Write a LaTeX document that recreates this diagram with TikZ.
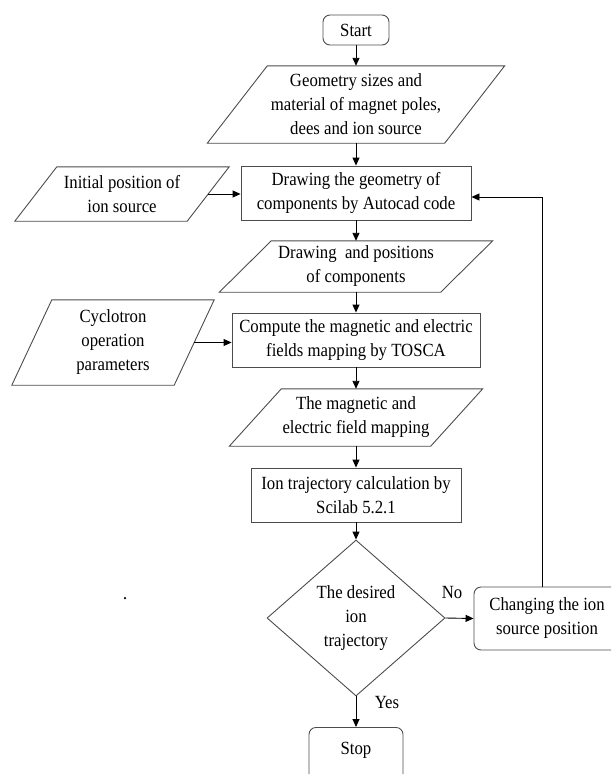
\documentclass[tikz,border=0pt]{standalone}
\usepackage{fontspec}
\setmainfont[FakeStretch=0.9]{Liberation Serif}
\usetikzlibrary{shapes.geometric}
\usetikzlibrary{arrows.meta}

\newcommand{\slantframe}[2]{%
  \draw[edgeline] ([xshift=#2]#1.north west) -- ([xshift=#2]#1.north east)
    -- ([xshift=-#2]#1.south east) -- ([xshift=-#2]#1.south west) -- cycle;}

\begin{document}
\begin{tikzpicture}[x=1pt,y=-1pt,
  txt/.style={font=\fontsize{18.6}{24}\selectfont, align=center, inner sep=0pt},
  edgeline/.style={draw=black!70, line width=0.9pt},
  procbox/.style={txt, edgeline, rectangle},
  termbox/.style={procbox, rounded corners=7pt},
  iobox/.style={txt, rectangle},
  decbox/.style={txt, edgeline, diamond, aspect=1.14},
  flow/.style={-{Triangle[length=8pt,width=7pt]}, line width=0.9pt}]
  \useasboundingbox (0,0) rectangle (611,774);
  \clip (0,0) rectangle (611,774);

  \node[termbox, minimum width=66pt, minimum height=30pt] (start) at (356,30) {Start};
  \node[iobox, minimum width=237pt, minimum height=77pt] (geo) at (356,104.5) {Geometry sizes and\\material of magnet poles,\\dees and ion source};
  \node[procbox, minimum width=230pt, minimum height=54pt] (drawg) at (356,193) {Drawing the geometry of\\components by Autocad code};
  \node[iobox, minimum width=172pt, minimum height=54pt] (init) at (122,194) {Initial position of\\ion source};
  \node[iobox, minimum width=221pt, minimum height=51pt] (dp) at (356,266.5) {Drawing~ and positions\\of components};
  \node[iobox, minimum width=162pt, minimum height=85pt] (cyc) at (113,342.5) {Cyclotron\\operation\\parameters};
  \node[procbox, minimum width=248pt, minimum height=54pt] (comp) at (356,340) {Compute the magnetic and electric\\fields mapping by TOSCA};
  \node[iobox, minimum width=201pt, minimum height=57pt] (mag) at (356,417.5) {The magnetic and\\electric field mapping};
  \node[procbox, minimum width=210pt, minimum height=54pt] (ion) at (356,495) {Ion trajectory calculation by\\Scilab 5.2.1};
  \node[decbox, minimum width=178pt, minimum height=156pt] (dec) at (356,618) {The desired\\ion\\trajectory};
  \node[termbox, minimum width=146pt, minimum height=63pt] (chg) at (547,618.5) {Changing the ion\\source position};
  \node[termbox, minimum width=94pt, text height=27pt, text depth=40pt, anchor=north] (stop) at (356,727) {Stop};

  \slantframe{geo}{30pt}
  \slantframe{init}{21pt}
  \slantframe{dp}{26pt}
  \slantframe{cyc}{20pt}
  \slantframe{mag}{26pt}

  \node[txt] (no) at (452,592) {No};
  \node[txt] (yes) at (387,702) {Yes};
  \node[circle, fill=black, inner sep=0pt, minimum size=2.5pt] (mark) at (125,598) {};

  \draw[flow] (start.south) -- (geo.north);
  \draw[flow] (geo.south) -- (drawg.north);
  \draw[flow] (drawg.south) -- (dp.north);
  \draw[flow] (dp.south) -- (comp.north);
  \draw[flow] (comp.south) -- (mag.north);
  \draw[flow] (mag.south) -- (ion.north);
  \draw[flow] (ion.south) -- (dec.north);
  \draw[flow] (dec.south) -- (stop.north);
  \draw[flow] (init.east) -- (init.east -| drawg.west);
  \draw[flow] (cyc.east) -- (cyc.east -| comp.west);
  \draw[flow] (dec.east) -- (chg.west);
  \coordinate (fb) at (542,197);
  \draw[flow] (chg.north -| fb) -- (fb) -- (drawg.east |- fb);
\end{tikzpicture}
\end{document}
